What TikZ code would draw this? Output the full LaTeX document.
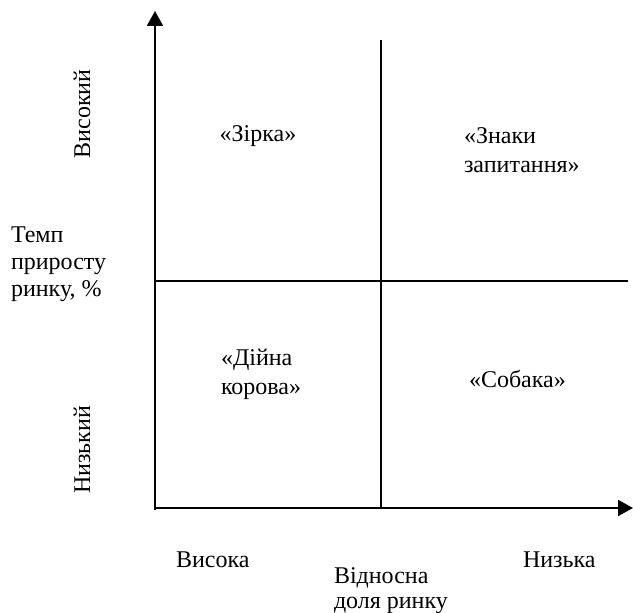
\documentclass[tikz,border=0pt]{standalone}
\usepackage{fontspec}
\setmainfont{Liberation Serif}
\usetikzlibrary{arrows.meta}

\begin{document}
\begin{tikzpicture}[x=0.5pt,y=-0.5pt,line width=1pt,
    lbl/.style={inner sep=0pt,font=\fontsize{12}{14.5}\selectfont,align=left},
    axis/.style={-{Triangle[length=7.5pt,width=8pt]}}]
    \useasboundingbox (0,0) rectangle (633,613);
    % axes
    \coordinate (o) at (155,510);
    \coordinate (ytip) at (155,11);
    \coordinate (xleft) at (154,508);
    \coordinate (xtip) at (633,508);
    \draw[axis] (o) -- (ytip);
    \draw[axis] (xleft) -- (xtip);
    % quadrant lines
    \coordinate (vtop) at (381,40);
    \coordinate (vbot) at (381,508);
    \coordinate (hleft) at (155,281);
    \coordinate (hright) at (628,281);
    \draw (vtop) -- (vbot);
    \draw (hleft) -- (hright);
    % quadrants
    \node[lbl,anchor=base] (star) at (258,142) {«Зірка»};
    \node[lbl,anchor=north west] (question) at (463,127) {«Знаки\\запитання»};
    \node[lbl,anchor=north west] (cow) at (220,348) {«Дійна\\корова»};
    \node[lbl,anchor=base west] (dog) at (468,388) {«Собака»};
    % axis labels
    \node[lbl,rotate=90] (high) at (82,114) {Високий};
    \node[lbl,rotate=90] (low) at (82,450) {Низький};
    \node[lbl,anchor=north west,font=\fontsize{12}{13.5}\selectfont] (growth) at (10,226) {Темп\\приросту\\ринку, \%};
    \node[lbl,anchor=base west] (highshare) at (175,568) {Висока};
    \node[lbl,anchor=base west] (lowshare) at (522,568) {Низька};
    \node[lbl,anchor=north west,font=\fontsize{12}{12.5}\selectfont] (share) at (333,567) {Відносна\\доля ринку};
\end{tikzpicture}
\end{document}
